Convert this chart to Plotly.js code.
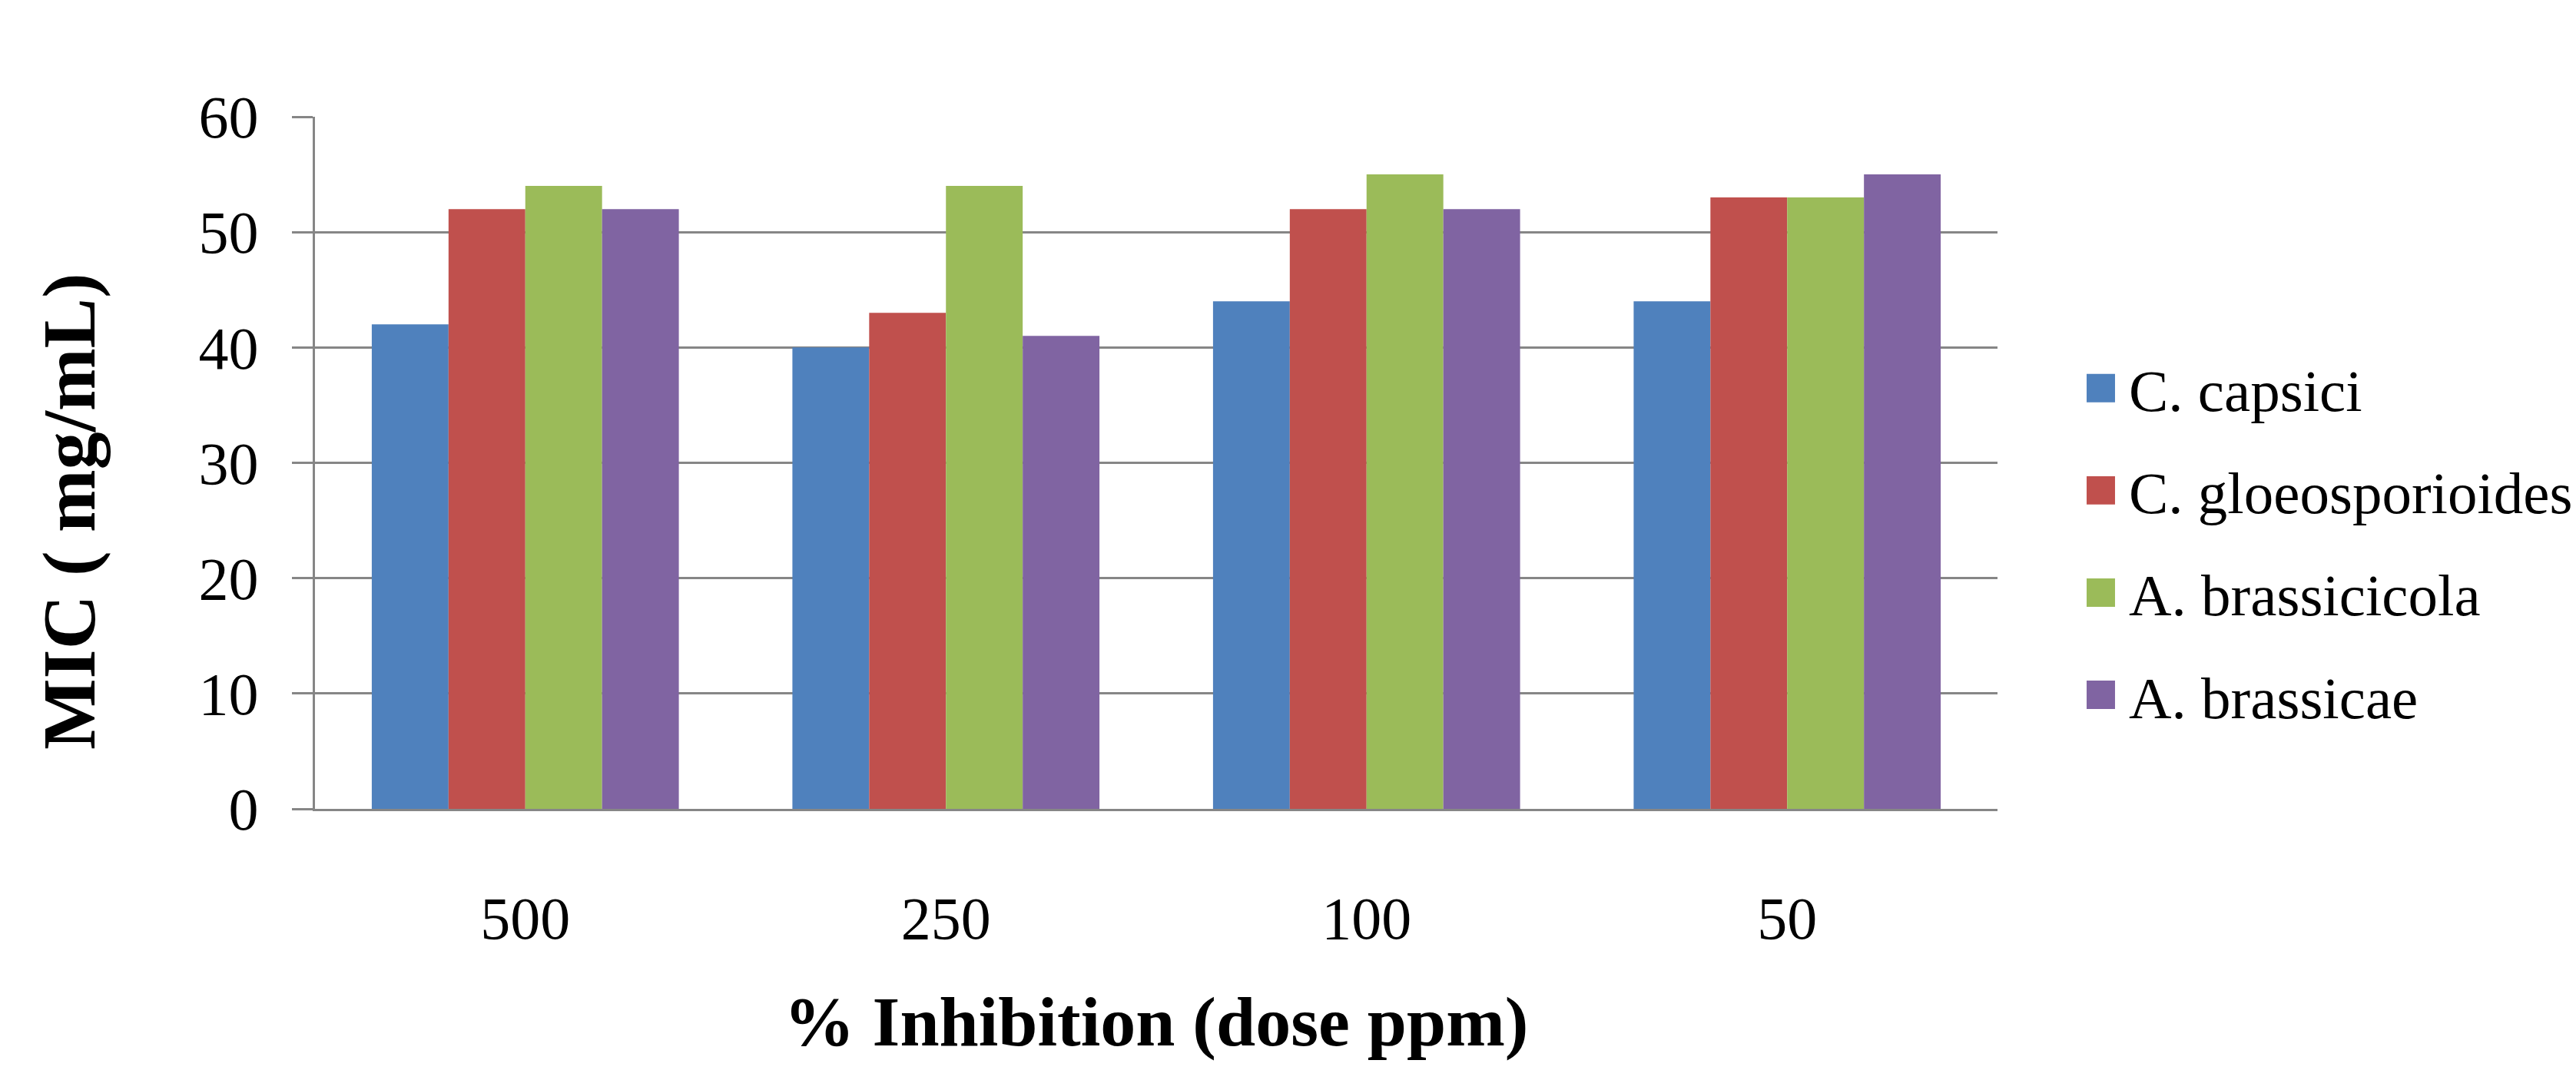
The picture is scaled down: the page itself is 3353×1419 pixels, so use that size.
<!DOCTYPE html>
<html>
<head>
<meta charset="utf-8">
<script src="https://cdn.plot.ly/plotly-3.0.1.min.js"></script>
<style>html,body{margin:0;padding:0;background:#fff;}#chart{width:3353px;height:1419px;}</style>
</head>
<body>
<div id="chart"></div>
<script>
const categories = ['500', '250', '100', '50'];
const seriesNames = ['C. capsici', 'C. gloeosporioides', 'A. brassicicola', 'A. brassicae'];
const cCapsici = [42, 40, 44, 44];
const cGloeosporioides = [52, 43, 52, 53];
const aBrassicicola = [54, 54, 55, 53];
const aBrassicae = [52, 41, 52, 55];
const yTicks = [0, 10, 20, 30, 40, 50, 60];
const colors = ['#4F81BD', '#C0504D', '#9BBB59', '#8064A2'];
const xTitle = '% Inhibition (dose ppm)';
const yTitle = 'MIC ( mg/mL)';

const seriesValues = [cCapsici, cGloeosporioides, aBrassicicola, aBrassicae];
const FONT = '"Liberation Serif", "Times New Roman", Times, serif';
const GRID = '#868686';

const data = seriesValues.map((vals, i) => ({
  type: 'bar',
  name: seriesNames[i],
  x: categories,
  y: vals,
  legendgroup: 'g' + i,
  marker: {color: colors[i], line: {width: 0}},
  hoverinfo: 'x+y+name'
}));

const ML = 410, MR = 753, MT = 152, MB = 366, W = 3353, H = 1419;
const plotW = W - ML - MR, plotH = H - MT - MB;

const layout = {
  width: W,
  height: H,
  margin: {l: ML, r: MR, t: MT, b: MB, pad: 0, autoexpand: false},
  paper_bgcolor: '#ffffff',
  plot_bgcolor: '#ffffff',
  barmode: 'group',
  bargap: 0.27,
  bargroupgap: 0,
  font: {family: FONT, color: '#000000', size: 77},
  showlegend: true,
  legend: {
    x: (2700 - ML) / plotW, xanchor: 'left',
    y: 0.386, yanchor: 'middle',
    font: {family: FONT, size: 77, color: '#000000'},
    itemwidth: 60,
    tracegroupgap: 30,
    bgcolor: 'rgba(0,0,0,0)',
    borderwidth: 0,
    itemclick: false,
    itemdoubleclick: false
  },
  xaxis: {
    type: 'category',
    categoryorder: 'array',
    categoryarray: categories,
    showline: true,
    linecolor: GRID,
    linewidth: 3,
    ticks: '',
    showgrid: false,
    zeroline: false,
    tickfont: {family: FONT, size: 78, color: '#000000'},
    ticklabelstandoff: 72,
    automargin: false,
    title: {
      text: xTitle,
      font: {family: FONT, size: 92, color: '#000000', weight: 'bold'},
      standoff: 60
    }
  },
  yaxis: {
    range: [0, 60],
    tickvals: yTicks,
    ticktext: yTicks.map(String),
    showline: true,
    linecolor: GRID,
    linewidth: 3,
    ticks: 'outside',
    ticklen: 27,
    tickwidth: 3,
    tickcolor: GRID,
    showgrid: true,
    gridcolor: GRID,
    gridwidth: 3,
    zeroline: false,
    tickfont: {family: FONT, size: 78, color: '#000000'},
    ticklabelstandoff: 28,
    automargin: false
  },
  annotations: [{
    text: yTitle,
    xref: 'paper', yref: 'paper',
    x: (90 - ML) / plotW, y: (H - MB - 666) / plotH,
    xanchor: 'center', yanchor: 'middle',
    textangle: -90,
    showarrow: false,
    font: {family: FONT, size: 98, color: '#000000', weight: 'bold'}
  }]
};

function fixLegend(gd) {
  const items = gd.querySelectorAll('.legend .traces');
  items.forEach(item => {
    const path = item.querySelector('.legendpoints path');
    const text = item.querySelector('text.legendtext');
    if (!path || !text) return;
    path.setAttribute('transform', '');
    const pr = path.getBoundingClientRect();
    const tr = text.getBoundingClientRect();
    const curCx = (pr.left + pr.right) / 2;
    const desiredCx = tr.left - 18 - 18.5;
    const dx = desiredCx - curCx;
    path.setAttribute('transform', 'translate(' + dx + ',0) scale(3.08)');
    path.style.strokeWidth = '0';
  });
}

Plotly.newPlot('chart', data, layout, {displayModeBar: false, staticPlot: true}).then(gd => {
  const t = gd.querySelector('.legend text.legendtext');
  if (t) {
    const left = t.getBoundingClientRect().left;
    const shift = 2771 - left;
    return Plotly.relayout(gd, {'legend.x': layout.legend.x + shift / plotW}).then(() => { fixLegend(gd); });
  }
  fixLegend(gd);
});
</script>
</body>
</html>
